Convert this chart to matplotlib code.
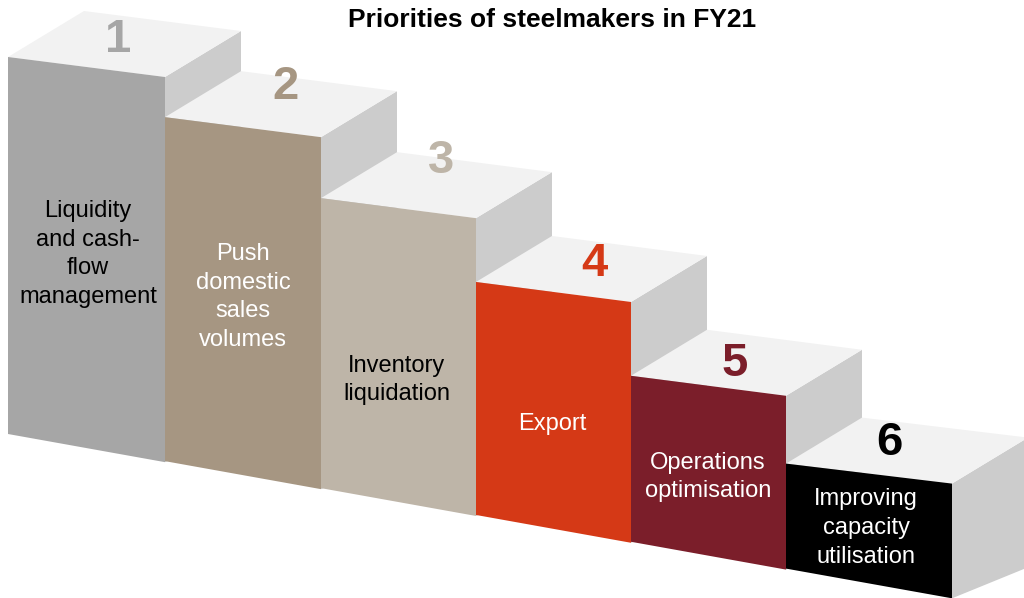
import matplotlib
matplotlib.use("Agg")
import matplotlib.pyplot as plt
from matplotlib.patches import Polygon

# ---------- Data ----------
ranks = [1, 2, 3, 4, 5, 6]
labels = [
    "Liquidity\nand cash-\nflow\nmanagement",
    "Push\ndomestic\nsales\nvolumes",
    "Inventory\nliquidation",
    "Export",
    "Operations\noptimisation",
    "Improving\ncapacity\nutilisation",
]
step_heights = [377, 344, 290, 233, 166, 105]   # front face height (px)
front_colors = ["#A6A6A6", "#A69682", "#BEB5A8", "#D53916", "#7B1E2A", "#000000"]
text_colors = ["black", "white", "black", "white", "white", "white"]

# ---------- Layout (pixels) ----------
edges = [8, 165, 321, 476, 631, 786, 952]       # left/right edges of front faces
base_y0, base_slope = 434, 0.173                 # floor line
top_drop = 20                                    # front top edge falls to the right
dx, dy = 76, -46                                 # depth vector at the top
dy_floor = -31                                   # depth vector at the floor
TOP, SIDE = "#F2F2F2", "#CCCCCC"
label_xy = [(88, 254), (243, 297), (397, 380), (552, 424), (708, 477), (866, 528)]
num_xy = [(118, 52), (285, 99), (441, 173), (594, 276), (735, 376), (889, 455)]

plt.rcParams["font.family"] = ["Liberation Sans", "DejaVu Sans"]

fig = plt.figure(figsize=(10.24, 5.98), dpi=100)
ax = fig.add_axes([0, 0, 1, 1])
ax.set_xlim(0, 1024)
ax.set_ylim(598, 0)
ax.axis("off")


def base(x):
    return base_y0 + base_slope * (x - edges[0])


for i, h in enumerate(step_heights):
    xl, xr = edges[i], edges[i + 1]
    yl_bot, yr_bot = base(xl), base(xr) + 1
    yl_top = yl_bot - h
    yr_top = yl_top + top_drop

    # side face (hidden partly by the next step)
    side = [(xr, yr_top), (xr + dx, yr_top + dy), (xr + dx, yr_bot + dy_floor), (xr, yr_bot)]
    ax.add_patch(Polygon(side, closed=True, fc=SIDE, ec="none", zorder=i * 3))
    # top face
    top = [(xl, yl_top), (xr, yr_top), (xr + dx, yr_top + dy), (xl + dx, yl_top + dy)]
    ax.add_patch(Polygon(top, closed=True, fc=TOP, ec="none", zorder=i * 3 + 1))
    # front face
    front = [(xl, yl_top), (xr, yr_top), (xr, yr_bot), (xl, yl_bot)]
    ax.add_patch(Polygon(front, closed=True, fc=front_colors[i], ec="none", zorder=i * 3 + 2))

    lx, ly = label_xy[i]
    ax.text(lx, ly, labels[i], ha="center", va="center", fontsize=17,
            color=text_colors[i], linespacing=1.4, zorder=50)
    nx, ny = num_xy[i]
    ax.text(nx, ny, str(ranks[i]), ha="center", va="baseline", fontsize=34,
            fontweight="bold", color=front_colors[i], zorder=50)

ax.text(552, 20, "Priorities of steelmakers in FY21", ha="center", va="center",
        fontsize=19, fontweight="bold", color="black", zorder=60)

fig.savefig("out.png", dpi=100)
